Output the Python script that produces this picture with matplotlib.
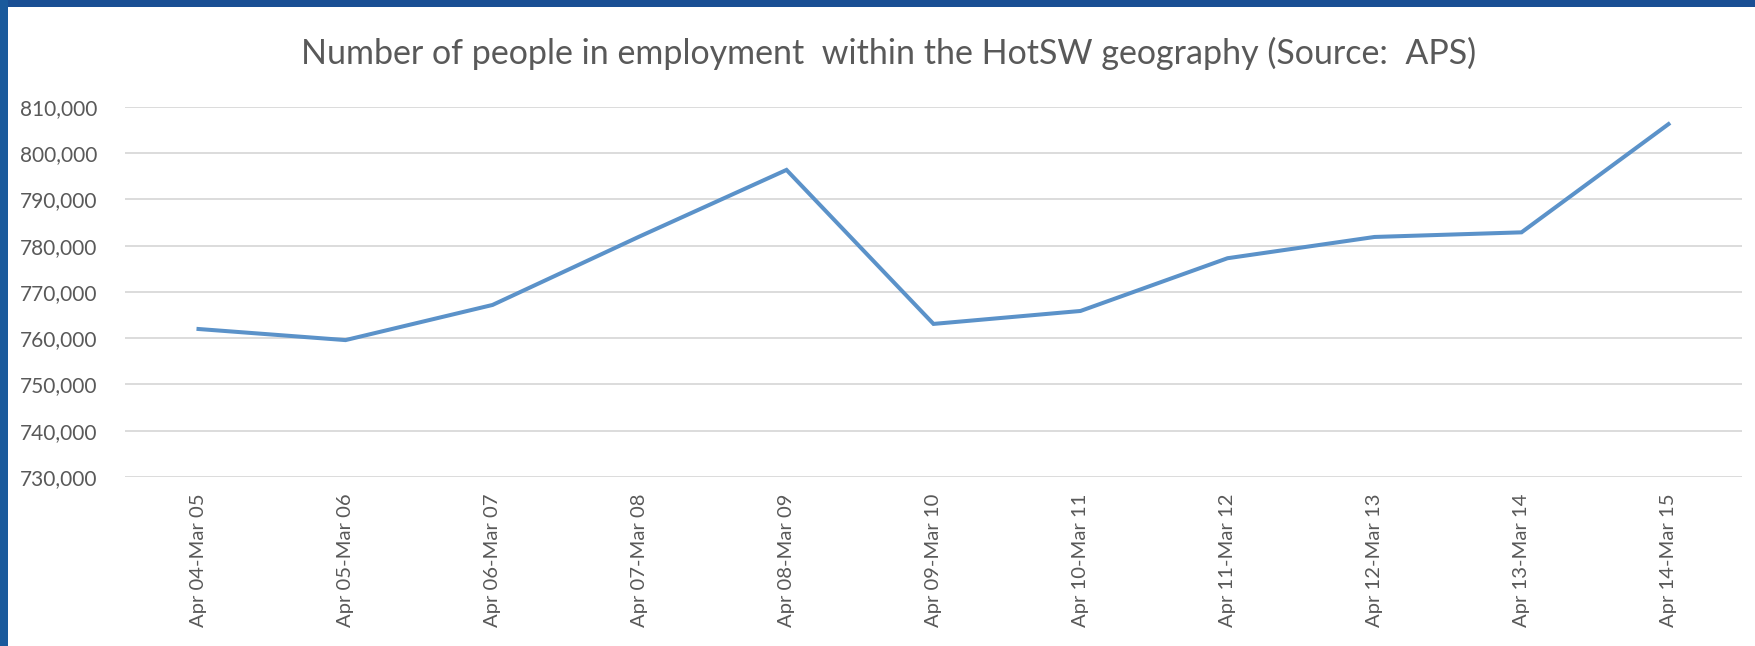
import numpy as np
import matplotlib.pyplot as plt
from matplotlib.patches import Rectangle
from matplotlib.ticker import FuncFormatter

periods = ['Apr 04-Mar 05', 'Apr 05-Mar 06', 'Apr 06-Mar 07', 'Apr 07-Mar 08',
           'Apr 08-Mar 09', 'Apr 09-Mar 10', 'Apr 10-Mar 11', 'Apr 11-Mar 12',
           'Apr 12-Mar 13', 'Apr 13-Mar 14', 'Apr 14-Mar 15']
employed = [762000, 759600, 767200, 782000, 796400, 763100,
            765900, 777300, 781900, 782900, 806300]
y_ticks = [730000, 740000, 750000, 760000, 770000, 780000, 790000, 800000, 810000]

plt.rcParams['font.family'] = ['Lato', 'DejaVu Sans']
W, H = 1756, 646
fig = plt.figure(figsize=(W / 100, H / 100), dpi=100)
fig.patch.set_facecolor('white')
# blue slide border along the top and left edges
fig.patches.append(Rectangle((0, 1 - 7 / H), 1, 7 / H, transform=fig.transFigure,
                             facecolor='#1a4f94', edgecolor='none', zorder=-5))
fig.patches.append(Rectangle((0, 0), 8 / W, 1, transform=fig.transFigure,
                             facecolor='#1a5a9c', edgecolor='none', zorder=-5))

ax = fig.add_axes([125 / W, 1 - 477 / H, (1742 - 125) / W, (477 - 107) / H])
ax.set_zorder(2)
ax.set_facecolor('none')
x = np.arange(len(periods))
ax.plot(x, employed, color='#5b92c9', linewidth=2.9, solid_joinstyle='miter', zorder=3)

ax.set_xlim(-0.5, len(periods) - 0.5)
ax.set_ylim(730000, 810000)
ax.set_yticks(y_ticks)
ax.yaxis.set_major_formatter(FuncFormatter(lambda v, p: f'{int(v):,}'))
ax.set_xticks(x)
ax.set_xticklabels(periods, rotation=90)
ax.grid(axis='y', color='#d9d9d9', linewidth=1.3)
ax.set_axisbelow(True)
for s in ax.spines.values():
    s.set_visible(False)
ax.tick_params(axis='both', length=0, labelcolor='#595959')
ax.tick_params(axis='x', pad=12, labelsize=14.6)
ax.tick_params(axis='y', pad=20, labelsize=15)

fig.text(889 / W, 1 - 53 / H,
         'Number of people in employment  within the HotSW geography (Source:  APS)',
         ha='center', va='center', fontsize=24.5, color='#595959', zorder=3)

fig.savefig('out.png', dpi=100, facecolor='white')
